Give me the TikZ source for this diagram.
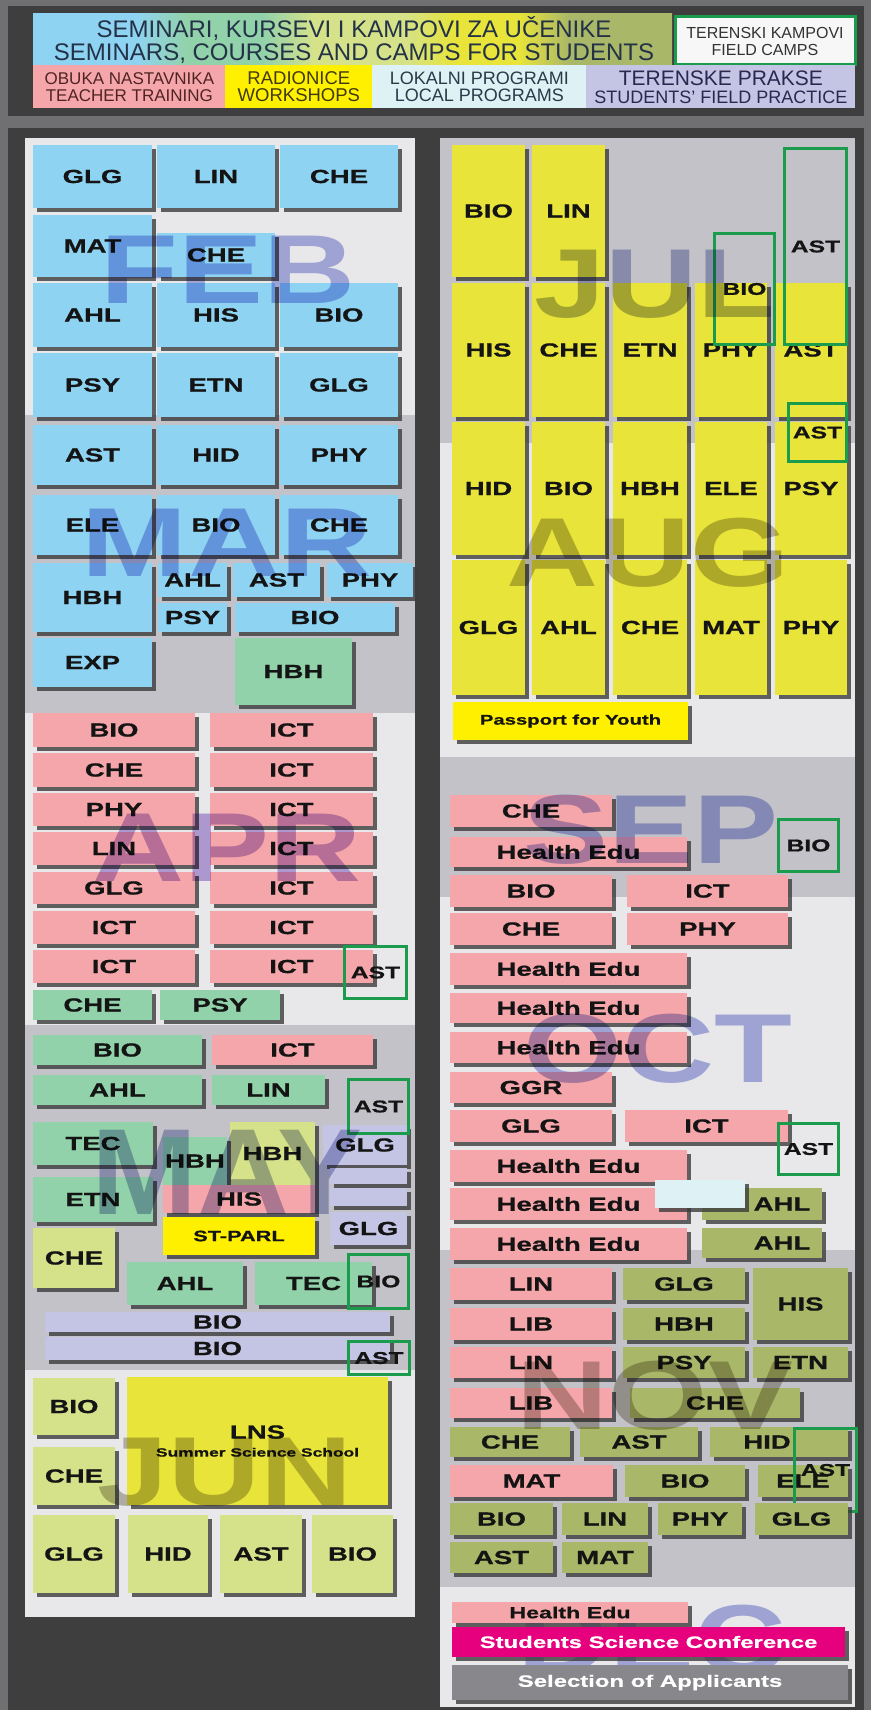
\documentclass[tikz,border=0pt]{standalone}
\usepackage{fontspec}
\setmainfont{Liberation Sans}
\newfontfamily\tilefont{Liberation Sans}[FakeStretch=1.45, FakeBold=0.8]
\newfontfamily\monthfont{Liberation Sans}[FakeStretch=1.3]
\usetikzlibrary{shadows}

\definecolor{outergray}{RGB}{112,112,114}
\definecolor{darkframe}{RGB}{62,62,63}
\definecolor{panellight}{RGB}{232,232,235}
\definecolor{panelgray}{RGB}{194,194,200}
\definecolor{skyfill}{RGB}{143,211,243}
\definecolor{mintfill}{RGB}{146,210,170}
\definecolor{rosefill}{RGB}{245,166,170}
\definecolor{lemonfill}{RGB}{232,228,58}
\definecolor{sunfill}{RGB}{255,240,0}
\definecolor{limefill}{RGB}{213,226,138}
\definecolor{olivefill}{RGB}{169,183,104}
\definecolor{lilacfill}{RGB}{196,196,228}
\definecolor{icefill}{RGB}{222,242,246}
\definecolor{confmagenta}{RGB}{230,0,126}
\definecolor{selectgray}{RGB}{136,136,140}
\definecolor{campgreen}{RGB}{26,156,76}
\definecolor{shadowgray}{RGB}{60,60,60}
\definecolor{tiletext}{RGB}{20,20,20}
\definecolor{monthblue}{RGB}{174,180,230}
\definecolor{monthviolet}{RGB}{190,168,225}
\definecolor{monthslate}{RGB}{178,182,215}
\definecolor{monthgray}{RGB}{192,188,178}
\definecolor{semtext}{RGB}{35,50,70}

\pgfdeclarehorizontalshading{seminarshade}{100bp}{color(0bp)=(skyfill); color(33bp)=(skyfill); color(37bp)=(mintfill); color(43bp)=(mintfill); color(47bp)=(limefill); color(54bp)=(limefill); color(58bp)=(lemonfill); color(63bp)=(lemonfill); color(67bp)=(olivefill); color(100bp)=(olivefill)}

\tikzset{every picture/.style={line width=0.75pt}}
\tikzset{
  dims/.style 2 args={minimum width=#1, minimum height=#2},
  tile/.style={anchor=north west, inner sep=0pt, outer sep=0pt, text=tiletext,
    font=\tilefont\bfseries\fontsize{19}{19}\selectfont,
    drop shadow={shadow xshift=3.5pt, shadow yshift=-3.5pt, fill=shadowgray, opacity=0.8}},
  sky tile/.style={tile, fill=skyfill},
  mint tile/.style={tile, fill=mintfill},
  rose tile/.style={tile, fill=rosefill},
  lemon tile/.style={tile, fill=lemonfill},
  sun tile/.style={tile, fill=sunfill},
  lime tile/.style={tile, fill=limefill},
  olive tile/.style={tile, fill=olivefill},
  lilac tile/.style={tile, fill=lilacfill},
  ice tile/.style={tile, fill=icefill},
  small text/.style={font=\tilefont\bfseries\fontsize{#1}{#1}\selectfont},
  camp/.style={anchor=north west, inner sep=0pt, draw=campgreen, line width=3pt, text=tiletext,
    font=\tilefont\bfseries\fontsize{17}{17}\selectfont},
  month/.style={inner sep=0pt, text=monthblue, font=\monthfont\bfseries\fontsize{98}{98}\selectfont},
  legend/.style={anchor=north west, inner sep=0pt, align=center},
}

\begin{document}
\begin{tikzpicture}[x=1pt,y=1pt,yscale=-1,xscale=1]
\useasboundingbox (0,0) rectangle (871,1710);

% Frame
\fill [outergray] (0,0) rectangle (871,1710);
\fill [darkframe] (8,6) rectangle (864,116);
\fill [darkframe] (8,128) rectangle (864,1710);

% Panels
\fill [panellight] (25,138) rectangle (415,1617);
\fill [panelgray] (25,415) rectangle (415,713);
\fill [panelgray] (25,1025) rectangle (415,1370);
\fill [panelgray] (440,138) rectangle (855,443);
\fill [panellight] (440,443) rectangle (855,757);
\fill [panelgray] (440,757) rectangle (855,897);
\fill [panellight] (440,897) rectangle (855,1250);
\fill [panelgray] (440,1250) rectangle (855,1587);
\fill [panellight] (440,1587) rectangle (855,1707);

% Legend
\shade [shading=seminarshade] (33,14) rectangle (672,65);
% Text Node
\draw (354,40) node [align=center, inner sep=0pt, text=semtext, font=\fontsize{24}{23}\selectfont] (semtitle) {SEMINARI, KURSEVI I KAMPOVI ZA UČENIKE\\SEMINARS, COURSES AND CAMPS FOR STUDENTS};
% Text Node
\draw (673.5,15.5) node [legend] [draw=campgreen, line width=3pt, fill=white!94!gray, dims={180}{48}, text=black!80, font=\fontsize{16}{17}\selectfont] (legcamp) {TERENSKI KAMPOVI\\FIELD CAMPS};
% Text Node
\draw (33,65) node [legend] [fill=rosefill, dims={192}{43}, text={rgb,255:red,80;green,36;blue,36}, font=\fontsize{17}{17}\selectfont] (legteach) {OBUKA NASTAVNIKA\\TEACHER TRAINING};
% Text Node
\draw (225,65) node [legend] [fill=sunfill, dims={147}{43}, text={rgb,255:red,64;green,58;blue,16}, font=\fontsize{18.5}{17}\selectfont] (legwork) {RADIONICE\\WORKSHOPS};
% Text Node
\draw (372,65) node [legend] [fill=icefill, dims={214}{43}, text={rgb,255:red,42;green,58;blue,72}, font=\fontsize{18}{17}\selectfont] (leglocal) {LOKALNI PROGRAMI\\LOCAL PROGRAMS};
% Text Node
\draw (586,65) node [legend] [fill=lilacfill, dims={269}{43}, text={rgb,255:red,42;green,40;blue,80}, font=\fontsize{18}{18}\selectfont] (legfield) {{\fontsize{21}{19}\selectfont TERENSKE PRAKSE}\\STUDENTS' FIELD PRACTICE};

% Hidden Month Label
\begin{scope}[blend mode=multiply]
\draw (652,1640) node [month] (decmark) {DEC};
\end{scope}

% ---------- FEB ----------
% Seminar Tile
\draw (33,145) node [sky tile] [dims={119}{63}] (feb1) {GLG};
% Seminar Tile
\draw (157,145) node [sky tile] [dims={118}{63}] (feb2) {LIN};
% Seminar Tile
\draw (280,145) node [sky tile] [dims={118}{63}] (feb3) {CHE};
% Seminar Tile
\draw (33,215) node [sky tile] [dims={119}{62}] (feb4) {MAT};
% Seminar Tile
\draw (157,233) node [sky tile] [dims={118}{44}] (feb5) {CHE};
% Seminar Tile
\draw (33,283) node [sky tile] [dims={119}{64}] (feb6) {AHL};
% Seminar Tile
\draw (157,283) node [sky tile] [dims={118}{64}] (feb7) {HIS};
% Seminar Tile
\draw (280,283) node [sky tile] [dims={118}{64}] (feb8) {BIO};
% Seminar Tile
\draw (33,353) node [sky tile] [dims={119}{64}] (feb9) {PSY};
% Seminar Tile
\draw (157,353) node [sky tile] [dims={118}{64}] (feb10) {ETN};
% Seminar Tile
\draw (280,353) node [sky tile] [dims={118}{64}] (feb11) {GLG};

% ---------- MAR ----------
% Seminar Tile
\draw (33,425) node [sky tile] [dims={119}{60}] (mar1) {AST};
% Seminar Tile
\draw (157,425) node [sky tile] [dims={118}{60}] (mar2) {HID};
% Seminar Tile
\draw (280,425) node [sky tile] [dims={118}{60}] (mar3) {PHY};
% Seminar Tile
\draw (33,495) node [sky tile] [dims={119}{60}] (mar4) {ELE};
% Seminar Tile
\draw (157,495) node [sky tile] [dims={118}{60}] (mar5) {BIO};
% Seminar Tile
\draw (280,495) node [sky tile] [dims={118}{60}] (mar6) {CHE};
% Seminar Tile
\draw (33,563) node [sky tile] [dims={119}{69}] (mar7) {HBH};
% Seminar Tile
\draw (158,563) node [sky tile] [dims={69}{34}] (mar8) {AHL};
% Seminar Tile
\draw (233,563) node [sky tile] [dims={87}{34}] (mar9) {AST};
% Seminar Tile
\draw (327,563) node [sky tile] [dims={86}{34}] (mar10) {PHY};
% Seminar Tile
\draw (158,603) node [sky tile] [dims={69}{29}] (mar11) {PSY};
% Seminar Tile
\draw (235,603) node [sky tile] [dims={160}{29}] (mar12) {BIO};
% Seminar Tile
\draw (33,638) node [sky tile] [dims={119}{49}] (mar13) {EXP};
% Seminar Tile
\draw (235,638) node [mint tile] [dims={117}{67}] (mar14) {HBH};

% ---------- APR ----------
% Training Tile
\draw (33,713) node [rose tile] [dims={162}{34}] (apr1) {BIO};
% Training Tile
\draw (210,713) node [rose tile] [dims={163}{34}] (apr2) {ICT};
% Training Tile
\draw (33,753) node [rose tile] [dims={162}{34}] (apr3) {CHE};
% Training Tile
\draw (210,753) node [rose tile] [dims={163}{34}] (apr4) {ICT};
% Training Tile
\draw (33,793) node [rose tile] [dims={162}{33}] (apr5) {PHY};
% Training Tile
\draw (210,793) node [rose tile] [dims={163}{33}] (apr6) {ICT};
% Training Tile
\draw (33,832) node [rose tile] [dims={162}{33}] (apr7) {LIN};
% Training Tile
\draw (210,832) node [rose tile] [dims={163}{33}] (apr8) {ICT};
% Training Tile
\draw (33,872) node [rose tile] [dims={162}{32}] (apr9) {GLG};
% Training Tile
\draw (210,872) node [rose tile] [dims={163}{32}] (apr10) {ICT};
% Training Tile
\draw (33,911) node [rose tile] [dims={162}{33}] (apr11) {ICT};
% Training Tile
\draw (210,911) node [rose tile] [dims={163}{33}] (apr12) {ICT};
% Training Tile
\draw (33,950) node [rose tile] [dims={162}{33}] (apr13) {ICT};
% Training Tile
\draw (210,950) node [rose tile] [dims={163}{33}] (apr14) {ICT};
% Camp Frame
\draw (343,945) node [camp] [dims={62}{52}] (apr15) {AST};
% Seminar Tile
\draw (33,990) node [mint tile] [dims={119}{30}] (apr16) {CHE};
% Seminar Tile
\draw (160,990) node [mint tile] [dims={120}{30}] (apr17) {PSY};

% ---------- MAY ----------
% Seminar Tile
\draw (33,1035) node [mint tile] [dims={169}{30}] (may1) {BIO};
% Training Tile
\draw (212,1035) node [rose tile] [dims={161}{30}] (may2) {ICT};
% Seminar Tile
\draw (33,1075) node [mint tile] [dims={169}{30}] (may3) {AHL};
% Seminar Tile
\draw (212,1075) node [mint tile] [dims={113}{30}] (may4) {LIN};
% Practice Tile
\draw (323,1125) node [lilac tile] [dims={84}{40}] (may12) {GLG};
% Practice Tile
\draw (330,1168) node [lilac tile] [dims={77}{16}] (may13) {};
% Practice Tile
\draw (330,1188) node [lilac tile] [dims={77}{18}] (may14) {};
% Practice Tile
\draw (330,1212) node [lilac tile] [dims={77}{33}] (may15) {GLG};
% Camp Frame
\draw (347,1078) node [camp] [dims={60}{54}] (may5) {AST};
% Seminar Tile
\draw (33,1122) node [mint tile] [dims={120}{43}] (may6) {TEC};
% Seminar Tile
\draw (33,1177) node [mint tile] [dims={120}{45}] (may7) {ETN};
% Seminar Tile
\draw (230,1122) node [lime tile] [dims={85}{63}] (may8) {HBH};
% Seminar Tile
\draw (163,1137) node [mint tile] [dims={64}{48}] (may9) {HBH};
% Training Tile
\draw (163,1185) node [rose tile] [dims={152}{28}] (may10) {HIS};
% Workshop Tile
\draw (163,1217) node [sun tile, small text=15] [dims={152}{38}] (may11) {ST-PARL};
% Seminar Tile
\draw (33,1228) node [lime tile] [dims={82}{60}] (may16) {CHE};
% Seminar Tile
\draw (127,1262) node [mint tile] [dims={116}{43}] (may17) {AHL};
% Seminar Tile
\draw (255,1262) node [mint tile] [dims={117}{43}] (may18) {TEC};
% Camp Frame
\draw (347,1253) node [camp] [dims={60}{54}] (may19) {BIO};
% Practice Tile
\draw (45,1312) node [lilac tile] [dims={345}{20}] (may20) {BIO};
% Practice Tile
\draw (45,1337) node [lilac tile] [dims={345}{23}] (may21) {BIO};
% Camp Frame
\draw (347,1340) node [camp] [dims={61}{33}] (may22) {AST};

% ---------- JUN ----------
% Seminar Tile
\draw (33,1378) node [lime tile] [dims={82}{57}] (jun1) {BIO};
% Seminar Tile
\draw (33,1447) node [lime tile] [dims={82}{58}] (jun2) {CHE};
% Camp Tile
\draw (127,1377) node [lemon tile, align=center] [dims={261}{128}] (jun3) {LNS\\[-1pt]{\fontsize{12}{12}\selectfont Summer Science School}};
% Seminar Tile
\draw (33,1515) node [lime tile] [dims={82}{78}] (jun4) {GLG};
% Seminar Tile
\draw (128,1515) node [lime tile] [dims={80}{78}] (jun5) {HID};
% Seminar Tile
\draw (220,1515) node [lime tile] [dims={82}{78}] (jun6) {AST};
% Seminar Tile
\draw (312,1515) node [lime tile] [dims={81}{78}] (jun7) {BIO};

% ---------- JUL ----------
% Camp Tile
\draw (452,145) node [lemon tile] [dims={73}{132}] (jul1) {BIO};
% Camp Tile
\draw (532,145) node [lemon tile] [dims={73}{132}] (jul2) {LIN};
% Camp Tile
\draw (452,283) node [lemon tile] [dims={73}{134}] (jul3) {HIS};
% Camp Tile
\draw (532,283) node [lemon tile] [dims={73}{134}] (jul4) {CHE};
% Camp Tile
\draw (613,283) node [lemon tile] [dims={74}{134}] (jul5) {ETN};
% Camp Tile
\draw (695,283) node [lemon tile] [dims={72}{134}] (jul6) {PHY};
% Camp Tile
\draw (775,283) node [lemon tile] [dims={72}{134}] (jul7) {AST};
% Camp Frame
\draw (713,232) node [camp] [dims={60}{111}] (jul8) {BIO};
% Camp Frame
\draw (783,147) node [camp] [dims={62}{196}] (jul9) {AST};

% ---------- AUG ----------
% Camp Tile
\draw (452,422) node [lemon tile] [dims={73}{133}] (aug1) {HID};
% Camp Tile
\draw (532,422) node [lemon tile] [dims={73}{133}] (aug2) {BIO};
% Camp Tile
\draw (613,422) node [lemon tile] [dims={74}{133}] (aug3) {HBH};
% Camp Tile
\draw (695,422) node [lemon tile] [dims={72}{133}] (aug4) {ELE};
% Camp Tile
\draw (775,422) node [lemon tile] [dims={72}{133}] (aug5) {PSY};
% Camp Frame
\draw (787,402) node [camp] [dims={58}{58}] (jul10) {AST};
% Camp Tile
\draw (452,560) node [lemon tile] [dims={73}{135}] (aug6) {GLG};
% Camp Tile
\draw (532,560) node [lemon tile] [dims={73}{135}] (aug7) {AHL};
% Camp Tile
\draw (613,560) node [lemon tile] [dims={74}{135}] (aug8) {CHE};
% Camp Tile
\draw (695,560) node [lemon tile] [dims={72}{135}] (aug9) {MAT};
% Camp Tile
\draw (775,560) node [lemon tile] [dims={72}{135}] (aug10) {PHY};
% Workshop Tile
\draw (453,702) node [sun tile, small text=14] [dims={235}{38}] (aug11) {Passport for Youth};

% ---------- SEP ----------
% Training Tile
\draw (450,795) node [rose tile] [dims={162}{32}] (sep1) {CHE};
% Training Tile
\draw (450,837) node [rose tile] [dims={237}{30}] (sep2) {Health Edu};
% Camp Frame
\draw (777,818) node [camp] [dims={60}{52}] (sep3) {BIO};
% Training Tile
\draw (450,875) node [rose tile] [dims={162}{32}] (sep4) {BIO};
% Training Tile
\draw (627,875) node [rose tile] [dims={161}{32}] (sep5) {ICT};
% Training Tile
\draw (450,913) node [rose tile] [dims={162}{32}] (sep6) {CHE};
% Training Tile
\draw (627,913) node [rose tile] [dims={161}{32}] (sep7) {PHY};

% ---------- OCT ----------
% Training Tile
\draw (450,953) node [rose tile] [dims={237}{32}] (oct1) {Health Edu};
% Training Tile
\draw (450,993) node [rose tile] [dims={237}{30}] (oct2) {Health Edu};
% Training Tile
\draw (450,1032) node [rose tile] [dims={237}{31}] (oct3) {Health Edu};
% Training Tile
\draw (450,1072) node [rose tile] [dims={162}{31}] (oct4) {GGR};
% Training Tile
\draw (450,1110) node [rose tile] [dims={162}{32}] (oct5) {GLG};
% Training Tile
\draw (625,1110) node [rose tile] [dims={163}{32}] (oct6) {ICT};
% Camp Frame
\draw (777,1122) node [camp] [dims={60}{51}] (oct7) {AST};
% Training Tile
\draw (450,1150) node [rose tile] [dims={237}{32}] (oct8) {Health Edu};
% Practice Tile
\draw (702,1188) node [olive tile] [dims={120}{32}] (oct9) {\hspace*{40pt}AHL};
% Training Tile
\draw (450,1188) node [rose tile] [dims={237}{32}] (oct10) {Health Edu};
% Local Tile
\draw (655,1180) node [ice tile] [dims={90}{15}] (oct11) {};
% Local Tile
\draw (655,1195) node [ice tile] [dims={90}{13}] (oct12) {};
% Training Tile
\draw (450,1228) node [rose tile] [dims={237}{32}] (oct13) {Health Edu};
% Practice Tile
\draw (702,1228) node [olive tile] [dims={120}{30}] (oct14) {\hspace*{40pt}AHL};

% ---------- NOV ----------
% Training Tile
\draw (450,1268) node [rose tile] [dims={162}{32}] (nov1) {LIN};
% Practice Tile
\draw (623,1268) node [olive tile] [dims={122}{32}] (nov2) {GLG};
% Practice Tile
\draw (753,1268) node [olive tile] [dims={95}{72}] (nov3) {HIS};
% Training Tile
\draw (450,1308) node [rose tile] [dims={162}{32}] (nov4) {LIB};
% Practice Tile
\draw (623,1308) node [olive tile] [dims={122}{32}] (nov5) {HBH};
% Training Tile
\draw (450,1347) node [rose tile] [dims={162}{31}] (nov6) {LIN};
% Practice Tile
\draw (623,1347) node [olive tile] [dims={122}{31}] (nov7) {PSY};
% Practice Tile
\draw (753,1347) node [olive tile] [dims={95}{31}] (nov8) {ETN};
% Training Tile
\draw (450,1388) node [rose tile] [dims={162}{30}] (nov9) {LIB};
% Practice Tile
\draw (630,1388) node [olive tile] [dims={170}{30}] (nov10) {CHE};
% Practice Tile
\draw (450,1427) node [olive tile] [dims={120}{30}] (nov11) {CHE};
% Practice Tile
\draw (580,1427) node [olive tile] [dims={118}{30}] (nov12) {AST};
% Practice Tile
\draw (710,1427) node [olive tile] [dims={138}{30}] (nov13) {HID\hspace*{24pt}};
% Training Tile
\draw (450,1465) node [rose tile] [dims={163}{32}] (nov14) {MAT};
% Practice Tile
\draw (625,1465) node [olive tile] [dims={120}{32}] (nov15) {BIO};
% Practice Tile
\draw (758,1465) node [olive tile] [dims={90}{32}] (nov16) {ELE};
% Camp Frame
\draw (793,1427) node [camp] [dims={62}{83}] (nov17) {AST};
% Practice Tile
\draw (450,1503) node [olive tile] [dims={103}{32}] (nov18) {BIO};
% Practice Tile
\draw (562,1503) node [olive tile] [dims={86}{32}] (nov19) {LIN};
% Practice Tile
\draw (658,1503) node [olive tile] [dims={84}{32}] (nov20) {PHY};
% Practice Tile
\draw (755,1503) node [olive tile] [dims={93}{32}] (nov21) {GLG};
% Practice Tile
\draw (450,1542) node [olive tile] [dims={103}{31}] (nov22) {AST};
% Practice Tile
\draw (562,1542) node [olive tile] [dims={86}{31}] (nov23) {MAT};

% ---------- DEC ----------
% Training Tile
\draw (452,1602) node [rose tile, small text=16] [dims={236}{21}] (dec1) {Health Edu};
% Event Tile
\draw (452,1627) node [tile, fill=confmagenta, text=white, small text=16.5] [dims={393}{30}] (dec2) {Students Science Conference};
% Event Tile
\draw (452,1665) node [tile, fill=selectgray, text=white, small text=16.5] [dims={396}{35}] (dec3) {Selection of Applicants};

% Month Labels
\begin{scope}[blend mode=multiply]
\draw (228,270) node [month] (febmark) {FEB};
\draw (227,543) node [month] (marmark) {MAR};
\draw (227,848) node [month, text=monthviolet] (aprmark) {APR};
\draw (227,1172) node [month, text=monthslate] (maymark) {\scalebox{1}[1.25]{MAY}};
\draw (225,1472) node [month, text=monthgray] (junmark) {JUN};
\draw (655,284) node [month, text=monthslate] (julmark) {JUL};
\draw (648,553) node [month, text=monthgray] (augmark) {AUG};
\draw (651,830) node [month] (sepmark) {SEP};
\draw (658,1049) node [month] (octmark) {OCT};
\draw (655,1396) node [month, text=monthgray] (novmark) {NOV};
\end{scope}

\end{tikzpicture}
\end{document}
